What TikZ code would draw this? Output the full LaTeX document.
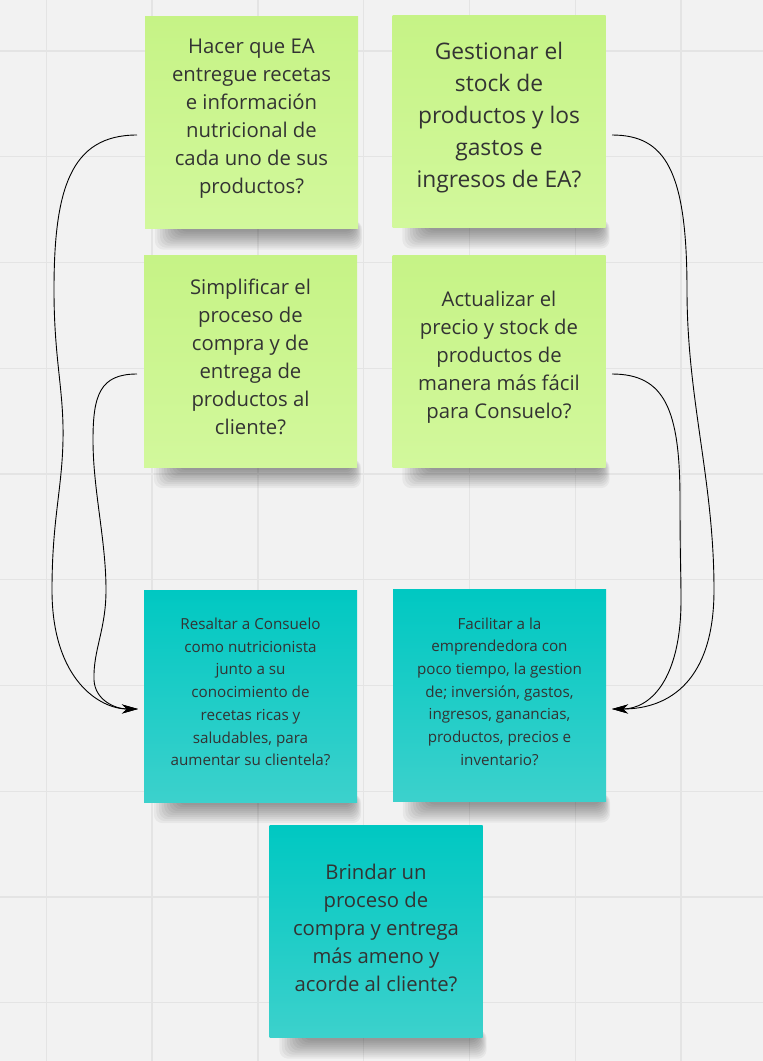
\documentclass[tikz,border=0pt]{standalone}
\usepackage{fontspec}
\setmainfont{Open Sans}
\usetikzlibrary{arrows.meta,calc}
\definecolor{bgc}{HTML}{F2F2F2}
\definecolor{gridc}{HTML}{E4E4E4}
\definecolor{gtop}{HTML}{C6F386}
\definecolor{gbot}{HTML}{D2F89C}
\definecolor{ttop}{HTML}{00C8C2}
\definecolor{tbot}{HTML}{3CD1CC}
\definecolor{txt}{HTML}{333333}
\pgfdeclarelayer{back}
\pgfdeclarelayer{shad}
\pgfsetlayers{back,shad,main}
\begin{document}
\begin{tikzpicture}[x=1pt,y=-1pt,
  note/.style={rectangle, minimum width=213pt, minimum height=212pt, inner sep=0pt},
  greennote/.style={note, top color=gtop, bottom color=gbot},
  tealnote/.style={note, top color=ttop, bottom color=tbot},
  tmid/.style={align=center, text=txt, inner sep=0pt, font=\fontsize{20.3}{28}\selectfont},
  tbig/.style={align=center, text=txt, inner sep=0pt, font=\fontsize{22.8}{32}\selectfont},
  tsmall/.style={align=center, text=txt, inner sep=0pt, font=\fontsize{15.2}{22.7}\selectfont},
  link/.style={draw=black, line width=0.9pt, -{Stealth[length=16pt,width=9pt,inset=5pt]}},
  gridline/.style={draw=gridc, line width=1.4pt}
]
\useasboundingbox (0,0) rectangle (763,1061);
\begin{pgfonlayer}{back}
\fill[bgc] (0,0) rectangle (763,1061);
\foreach \x in {46.3,152.1,257.9,363.7,469.5,575.3,681.1}{\draw[gridline] (\x,0) -- (\x,1061);}
\foreach \y in {51,156.75,262.5,368.25,474,579.75,685.5,791.25,897,1002.75}{\draw[gridline] (0,\y) -- (763,\y);}
\end{pgfonlayer}

\node[greennote] (n1) at (251.5,122.5) {};
\node[greennote] (n2) at (499,121.5) {};
\node[greennote] (n3) at (250.5,361) {};
\node[greennote] (n4) at (499,361) {};
\node[tealnote] (n5) at (250.5,696) {};
\node[tealnote] (n6) at (499.5,695.5) {};
\node[tealnote] (n7) at (376,931.5) {};

\node[tmid] (t1) at ([yshift=4pt]n1.center) {Hacer que EA\\entregue recetas\\e información\\nutricional de\\cada uno de sus\\productos?};
\node[tbig] (t2) at ([yshift=4pt]n2.center) {Gestionar el\\stock de\\productos y los\\gastos e\\ingresos de EA?};
\node[tmid] (t3) at ([yshift=4pt]n3.center) {Simplificar el\\proceso de\\compra y de\\entrega de\\productos al\\cliente?};
\node[tmid] (t4) at ([yshift=4pt]n4.center) {Actualizar el\\precio y stock de\\productos de\\manera más fácil\\para Consuelo?};
\node[tsmall] (t5) at ([yshift=4pt]n5.center) {Resaltar a Consuelo\\como nutricionista\\junto a su\\conocimiento de\\recetas ricas y\\saludables, para\\aumentar su clientela?};
\node[tsmall] (t6) at ([yshift=4pt]n6.center) {Facilitar a la\\emprendedora con\\poco tiempo, la gestion\\de; inversión, gastos,\\ingresos, ganancias,\\productos, precios e\\inventario?};
\node[tmid] (t7) at ([yshift=4pt]n7.center) {Brindar un\\proceso de\\compra y entrega\\más ameno y\\acorde al cliente?};

\begin{pgfonlayer}{shad}
\foreach \n in {n1,n2,n3,n4,n5,n6,n7}{
  \foreach \k in {1,...,10}{
    \fill[black,opacity=0.045,rounded corners=9pt] ([xshift=36pt-2.6pt*\k,yshift=8pt]\n.south west) rectangle ([xshift=0.9pt*\k-5pt,yshift=-1pt-2pt*\k]\n.south east);
  }}
\end{pgfonlayer}

\coordinate (a1) at (137,135);
\coordinate (a3) at (137,374);
\coordinate (a2) at (612,135);
\coordinate (a4) at (612,374);
\coordinate (e5) at (138,709);
\coordinate (e6) at (612,709);

\draw[link] (a1) .. controls (70,135) and (54,190) .. (54,290) .. controls (54,360) and (64,390) .. (63,440) .. controls (62,490) and (52,520) .. (52,590) .. controls (52,680) and (100,709) .. (e5);
\draw[link] (a3) .. controls (100,374) and (93,395) .. (93,440) .. controls (93,490) and (106,540) .. (106,590) .. controls (106,630) and (93,650) .. (94,680) .. controls (95,700) and (115,709) .. (e5);
\draw[link] (a2) .. controls (665,135) and (687,170) .. (687,290) .. controls (687,400) and (714,480) .. (714,590) .. controls (714,680) and (670,709) .. (e6);
\draw[link] (a4) .. controls (665,374) and (680,410) .. (680,500) .. controls (680,560) and (681,570) .. (681,600) .. controls (681,680) and (650,709) .. (e6);
\end{tikzpicture}
\end{document}
